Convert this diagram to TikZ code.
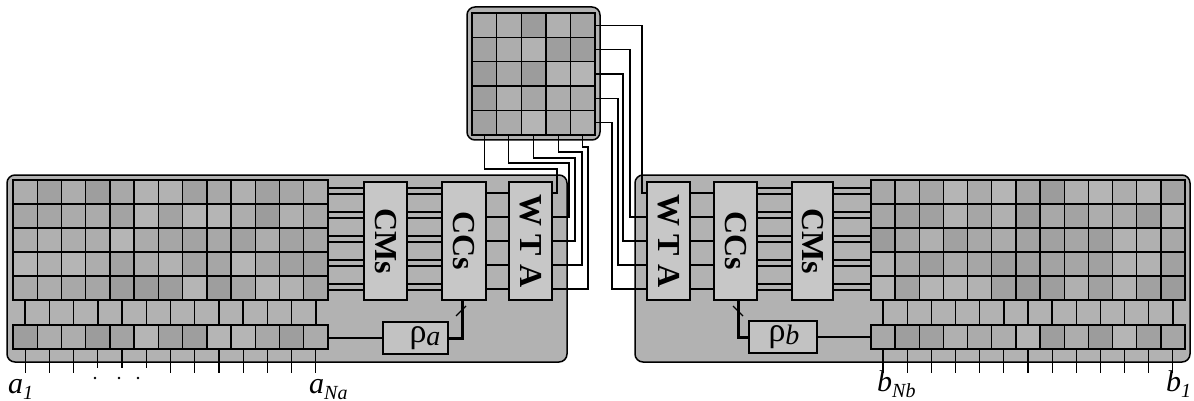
\documentclass[tikz,border=0pt]{standalone}
\usepackage{fontspec}
\setmainfont{Liberation Serif}
\usetikzlibrary{calc}
\tikzset{
  blk/.style={draw=black, line width=1.5pt, rounded corners=8pt, fill=black!30, inner sep=0pt, outer sep=0pt},
  gline/.style={line width=1.4pt},
  frame/.style={draw, line width=2pt, inner sep=0pt, outer sep=0pt},
  proc/.style={draw, line width=1.6pt, fill=black!22, minimum height=118pt, inner sep=0pt, outer sep=0pt},
  ptext/.style={rotate=-90, font=\fontsize{32}{32}\selectfont\bfseries, inner sep=0pt},
  rhobox/.style={draw, line width=1.6pt, fill=black!24, minimum height=32pt, inner sep=0pt, outer sep=0pt},
  wire/.style={line width=1.1pt},
  thickwire/.style={line width=3pt},
  lbl/.style={font=\fontsize{30}{30}\selectfont\itshape, inner sep=0pt, anchor=base west},
}
\newcommand\mkgrid[6]{%
  \foreach \ii in {1,...,#3}{\foreach \jj in {1,...,#4}{%
    \pgfmathtruncatemacro\gv{29+11*rnd}%
    \fill[black!\gv] ({#1+(\ii-1)*#5},{#2+(\jj-1)*#6}) rectangle ++({#5},{#6});}}%
  \foreach \ii in {0,...,#3}{\draw[gline] ({#1+\ii*#5},#2) -- ++(0,{#4*#6});}%
  \foreach \jj in {0,...,#4}{\draw[gline] (#1,{#2+\jj*#6}) -- ++({#3*#5},0);}%
}
\newcommand\subtxt[1]{\raisebox{-6pt}{\fontsize{20}{20}\selectfont\itshape #1}}
\begin{document}
\begin{tikzpicture}[x=1pt,y=-1pt]
\pgfmathsetseed{4242}
\useasboundingbox (0,0) rectangle (1194,401);

% ---------- blocks ----------
\node[blk, minimum width=560pt, minimum height=187pt, anchor=north west] (blkA) at (7,175) {};
\node[blk, minimum width=555pt, minimum height=187pt, anchor=north west] (blkB) at (635,175) {};
\node[blk, minimum width=133pt, minimum height=133pt, anchor=north west] (blkC) at (467,7) {};

% ---------- grids ----------
\mkgrid{13}{180}{13}{5}{24.23}{24}
\node[frame, minimum width=315pt, minimum height=120pt, anchor=north west] (gA) at (13,180) {};
\mkgrid{13}{325}{13}{1}{24.23}{24}
\node[frame, minimum width=315pt, minimum height=24pt, anchor=north west] (bA) at (13,325) {};

\mkgrid{871}{180}{13}{5}{24.15}{24}
\node[frame, minimum width=314pt, minimum height=120pt, anchor=north west] (gB) at (871,180) {};
\mkgrid{871}{325}{13}{1}{24.15}{24}
\node[frame, minimum width=314pt, minimum height=24pt, anchor=north west] (bB) at (871,325) {};

\mkgrid{472}{13}{5}{5}{24.6}{24.4}
\node[frame, minimum width=123pt, minimum height=122pt, anchor=north west] (gC) at (472,13) {};

% ---------- staggered lines and input ticks ----------
\foreach \k in {0,...,12}{
  \pgfmathsetmacro\xx{13+24.23*(\k+0.5)}
  \pgfmathsetmacro\tl{(\k>2 && \k<6) ? 19 : 24}
  \draw[gline] (gA.south -| \xx,0) -- (bA.north -| \xx,0);
  \draw[line width=1.2pt] (bA.south -| \xx,0) -- ++(0,\tl);
  \pgfmathsetmacro\xy{871+24.15*(\k+0.5)}
  \draw[gline] (gB.south -| \xy,0) -- (bB.north -| \xy,0);
  \draw[line width=1.2pt] (bB.south -| \xy,0) -- ++(0,24);
}
\fill (95,378) circle (1.3pt);
\fill (119,378) circle (1.3pt);
\fill (138,378) circle (1.3pt);

% ---------- processing boxes ----------
\node[proc, minimum width=43pt] (cmsA) at (385.5,241) {};
\node[proc, minimum width=44pt] (ccsA) at (464,241) {};
\node[proc, minimum width=43pt] (wtaA) at (530.5,241) {};
\node[proc, minimum width=43pt] (wtaB) at (668.5,241) {};
\node[proc, minimum width=43pt] (ccsB) at (735.5,241) {};
\node[proc, minimum width=41pt] (cmsB) at (812.5,241) {};
\node[ptext] (cmsAt) at (cmsA) {CMs};
\node[ptext] (ccsAt) at (ccsA) {CCs};
\node[ptext] (wtaAt) at (wtaA) {W\hspace{8pt}T\hspace{8pt}A};
\node[ptext] (wtaBt) at (wtaB) {W\hspace{8pt}T\hspace{8pt}A};
\node[ptext] (ccsBt) at (ccsB) {CCs};
\node[ptext] (cmsBt) at (cmsB) {CMs};

% ---------- row wires ----------
\foreach \k in {0,...,4}{
  \pgfmathsetmacro\ya{188+24*\k}
  \pgfmathsetmacro\yb{194+24*\k}
  \pgfmathsetmacro\ys{193+24*\k}
  \draw[wire] (gA.east |- 0,\ya) -- (cmsA.west |- 0,\ya);
  \draw[wire] (gA.east |- 0,\yb) -- (cmsA.west |- 0,\yb);
  \draw[wire] (cmsA.east |- 0,\ya) -- (ccsA.west |- 0,\ya);
  \draw[wire] (cmsA.east |- 0,\yb) -- (ccsA.west |- 0,\yb);
  \draw[wire] (ccsA.east |- 0,\ys) -- (wtaA.west |- 0,\ys);
  \draw[wire] (gB.west |- 0,\ya) -- (cmsB.east |- 0,\ya);
  \draw[wire] (gB.west |- 0,\yb) -- (cmsB.east |- 0,\yb);
  \draw[wire] (cmsB.west |- 0,\ya) -- (ccsB.east |- 0,\ya);
  \draw[wire] (cmsB.west |- 0,\yb) -- (ccsB.east |- 0,\yb);
  \draw[wire] (ccsB.west |- 0,\ys) -- (wtaB.east |- 0,\ys);
}

% ---------- top map to WTAs ----------
\foreach \j/\yt/\xt in {0/169/557, 1/163/569, 2/158/575, 3/152/582, 4/147/588}{
  \pgfmathsetmacro\xc{472+24.6*(\j+0.5)}
  \pgfmathsetmacro\yr{193+24*\j}
  \draw[wire] (gC.south -| \xc,0) |- (\xt,\yt) |- (wtaA.east |- 0,\yr);
}
\foreach \i/\xt in {0/642, 1/630, 2/623, 3/618, 4/612}{
  \pgfmathsetmacro\yc{13+24.4*(\i+0.5)}
  \pgfmathsetmacro\yr{193+24*\i}
  \draw[wire] (gC.east |- 0,\yc) -| (\xt,\yr) -- (wtaB.west |- 0,\yr);
}

% ---------- rho boxes ----------
\node[rhobox, minimum width=65pt] (rhoA) at (415.5,338) {};
\node[rhobox, minimum width=68pt] (rhoB) at (783,337) {};
\node[inner sep=0pt] (rhoAt) at (425,338) {\fontsize{34}{34}\selectfont ρ\raisebox{-3pt}{\fontsize{28}{28}\selectfont\itshape a}};
\node[inner sep=0pt] (rhoBt) at (784,337) {\fontsize{34}{34}\selectfont ρ\raisebox{-3pt}{\fontsize{28}{28}\selectfont\itshape b}};
\draw[wire] (rhoA.west) -- (rhoA.west -| bA.east);
\draw[wire] (rhoB.east) -- (rhoB.east -| bB.west);
\draw[thickwire] (ccsA.south -| 462,0) |- (rhoA.east);
\draw[thickwire] (ccsB.south -| 738,0) |- (rhoB.west);
\draw[wire] (456,316) -- (466,306);
\draw[wire] (733,306) -- (743,316);

% ---------- labels ----------
\node[lbl] (la1) at (8,393) {a\subtxt{1}};
\node[lbl] (laN) at (309,393) {a\subtxt{Na}};
\node[lbl] (lbN) at (877,391) {b\subtxt{Nb}};
\node[lbl] (lb1) at (1166,391) {b\subtxt{1}};
\end{tikzpicture}
\end{document}
